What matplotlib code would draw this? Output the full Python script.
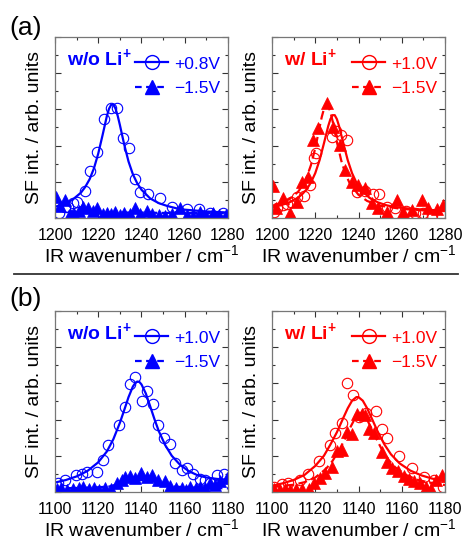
import numpy as np
import matplotlib
matplotlib.use("Agg")
import matplotlib.pyplot as plt
from matplotlib.ticker import MultipleLocator

plt.rcParams['font.family'] = ['Liberation Sans', 'DejaVu Sans']
plt.rcParams['mathtext.fontset'] = 'custom'
plt.rcParams['mathtext.rm'] = 'Liberation Sans'
plt.rcParams['mathtext.bf'] = 'Liberation Sans:bold'

BLUE = '#0000ff'
RED = '#ff0000'

# ---- (a) w/o Li+ ----
a_wo_circ_x = [1202, 1204.5, 1206, 1208.5, 1210, 1213.8, 1216.2, 1219.3, 1222.5, 1225.8,
               1228.5, 1231.4, 1234, 1237, 1239.3, 1243, 1248.5, 1254.2, 1260.9, 1266.8,
               1271.6, 1277.5]
a_wo_circ_y = [0.13, 0.31, 0.3, 0.41, 0.45, 0.75, 1.31, 1.83, 2.73, 3.05,
               3.03, 2.22, 1.94, 1.07, 0.71, 0.67, 0.55, 0.3, 0.24, 0.25,
               0.15, 0.13]
a_wo_tri_x = [1200.5, 1202.3, 1204.6, 1207, 1209, 1211, 1213, 1215.4, 1217.5, 1219.3,
              1222, 1224, 1226, 1227.7, 1230, 1232, 1234.5, 1237, 1239.5, 1242.4,
              1245, 1248, 1251, 1254, 1257.6, 1261, 1264, 1267, 1270, 1273, 1276, 1279]
a_wo_tri_y = [0.59, 0.33, 0.5, 0.12, 0.1, 0.18, 0.29, 0.27, 0.2, 0.28,
              0.1, 0.13, 0.1, 0.17, 0.08, 0.15, 0.1, 0.27, 0.12, 0.2,
              0.12, 0.08, 0.06, 0.1, 0.27, 0.08, 0.06, 0.17, 0.06, 0.13, 0.08, 0.08]
a_wo_fit_x = [1200, 1204, 1208, 1212, 1214, 1216, 1218, 1220, 1222, 1224, 1225, 1226,
              1227, 1228, 1229, 1230, 1232, 1234, 1236, 1238, 1240, 1244, 1248, 1252,
              1256, 1260, 1270, 1280]
a_wo_fit_y = [0.31, 0.38, 0.50, 0.70, 0.86, 1.07, 1.37, 1.78, 2.29, 2.82, 3.02, 3.13,
              3.13, 3.02, 2.82, 2.57, 2.03, 1.56, 1.21, 0.96, 0.78, 0.54, 0.41, 0.33,
              0.27, 0.23, 0.18, 0.15]
a_wo_dfit_x = [1200, 1210, 1220, 1230, 1240, 1250, 1260, 1270, 1280]
a_wo_dfit_y = [0.2, 0.17, 0.16, 0.15, 0.15, 0.14, 0.14, 0.14, 0.14]

# ---- (a) w/ Li+ ----
a_w_circ_x = [1200.8, 1202.5, 1205, 1207, 1209, 1211.5, 1214.6, 1217.6, 1219.5, 1220.3,
              1227.6, 1229.5, 1232, 1234.6, 1239.3, 1243, 1246.8, 1249.3, 1253, 1257,
              1262, 1266, 1270, 1274, 1278]
a_w_circ_y = [0.17, 0.28, 0.36, 0.4, 0.45, 0.57, 0.6, 0.91, 1.65, 1.8,
              2.24, 2.4, 2.3, 2.15, 0.72, 0.75, 0.66, 0.67, 0.3, 0.27,
              0.2, 0.13, 0.14, 0.07, 0.1]
a_w_tri_x = [1200.6, 1202, 1205, 1208.3, 1211.4, 1213.7, 1216.8, 1219.1, 1221.4, 1225.3,
             1228.4, 1231.4, 1233.7, 1236.8, 1239.9, 1243, 1246.1, 1249.2, 1253, 1257.6,
             1260.7, 1264.6, 1269.2, 1272.3, 1276.1, 1279.2]
a_w_tri_y = [0.87, 0.27, 0.54, 0.13, 0.45, 1.0, 1.14, 2.15, 2.48, 3.17,
             2.52, 2.02, 1.33, 1.0, 0.91, 0.82, 0.41, 0.27, 0.17, 0.5,
             0.17, 0.22, 0.5, 0.27, 0.24, 0.36]
a_w_fit_x = [1200, 1204, 1208, 1212, 1214, 1216, 1218, 1220, 1222, 1224, 1226, 1227,
             1228, 1229, 1230, 1231, 1233, 1235, 1237, 1239, 1241, 1245, 1249, 1253,
             1257, 1265, 1280]
a_w_fit_y = [0.30, 0.35, 0.43, 0.56, 0.66, 0.79, 0.98, 1.24, 1.60, 2.06, 2.54, 2.73,
             2.84, 2.84, 2.73, 2.54, 2.06, 1.60, 1.24, 0.98, 0.79, 0.56, 0.43, 0.35,
             0.30, 0.25, 0.20]
a_w_dfit_x = [1200, 1204, 1208, 1212, 1214, 1216, 1218, 1220, 1222, 1223, 1224, 1225,
              1226, 1227, 1228, 1230, 1232, 1234, 1236, 1240, 1244, 1250, 1260, 1270, 1280]
a_w_dfit_y = [0.33, 0.40, 0.52, 0.72, 0.89, 1.12, 1.46, 1.93, 2.51, 2.79, 3.01, 3.12,
              3.09, 2.93, 2.68, 2.10, 1.59, 1.21, 0.95, 0.64, 0.47, 0.34, 0.25, 0.21, 0.19]

# ---- (b) w/o Li+ ----
b_wo_circ_x = [1101.5, 1104.6, 1109.5, 1112.7, 1114.6, 1119.6, 1122.2, 1124.5, 1129.5, 1132.2,
               1134.6, 1137.2, 1140.1, 1142.6, 1145.5, 1147.8, 1150.5, 1153.4, 1155.5, 1158.6,
               1161, 1163.9, 1167, 1169.3, 1171.6, 1174.7, 1178]
b_wo_circ_y = [0.24, 0.34, 0.47, 0.5, 0.56, 0.54, 0.88, 1.29, 1.84, 2.35,
               2.99, 3.17, 2.5, 2.8, 2.42, 1.86, 1.48, 1.33, 0.8, 0.6,
               0.66, 0.5, 0.35, 0.33, 0.24, 0.47, 0.5]
b_wo_tri_x = [1100.8, 1103, 1105.5, 1108.5, 1111, 1113, 1115.5, 1118, 1120.5, 1123,
              1126, 1128.5, 1130.8, 1132.5, 1134.7, 1137, 1140, 1142.4, 1144.7, 1147.8,
              1150.8, 1153.2, 1156, 1158.6, 1160.5, 1162.4, 1165, 1167, 1169.5, 1171.6,
              1174, 1176.3, 1179.4]
b_wo_tri_y = [0.08, 0.12, 0.06, 0.08, 0.12, 0.15, 0.07, 0.1, 0.06, 0.1,
              0.08, 0.24, 0.33, 0.4, 0.45, 0.38, 0.52, 0.42, 0.47, 0.33,
              0.29, 0.17, 0.1, 0.1, 0.06, 0.15, 0.1, 0.15, 0.12, 0.24,
              0.2, 0.29, 0.38]
b_wo_fit_x = [1100, 1105, 1110, 1115, 1120, 1124, 1127, 1130, 1132, 1134, 1136, 1137,
              1138, 1139, 1140, 1142, 1144, 1146, 1148, 1151, 1154, 1158, 1162, 1166,
              1170, 1175, 1180]
b_wo_fit_y = [0.26, 0.33, 0.43, 0.58, 0.82, 1.12, 1.46, 1.91, 2.26, 2.62, 2.91, 3.00,
              3.05, 3.04, 2.97, 2.72, 2.37, 2.01, 1.68, 1.29, 1.00, 0.74, 0.57, 0.46,
              0.40, 0.36, 0.34]
b_wo_dfit_x = [1100, 1110, 1120, 1125, 1130, 1135, 1140, 1145, 1150, 1155, 1160, 1170, 1180]
b_wo_dfit_y = [0.10, 0.11, 0.13, 0.15, 0.23, 0.29, 0.33, 0.29, 0.23, 0.15, 0.13, 0.11, 0.10]

# ---- (b) w/ Li+ ----
b_w_circ_x = [1100.7, 1104.5, 1107.5, 1113, 1116.6, 1121.5, 1126.7, 1129.2, 1132.3, 1134.6,
              1137.4, 1140.4, 1143.4, 1148, 1150.8, 1153.2, 1158.5, 1164.7, 1170.1, 1175,
              1179.1]
b_w_circ_y = [0.15, 0.23, 0.24, 0.33, 0.51, 0.85, 1.3, 1.62, 1.9, 3.02,
              2.67, 2.08, 2.17, 2.23, 1.75, 1.48, 0.98, 0.65, 0.4, 0.33,
              0.15]
b_w_tri_x = [1100.8, 1103.5, 1106, 1108.5, 1111, 1114, 1117, 1119.3, 1122.3, 1124.7,
             1127.7, 1130, 1132.4, 1134.7, 1137, 1139.5, 1141.6, 1143.1, 1144.9, 1147,
             1150.8, 1153.2, 1155.5, 1158.1, 1160.9, 1163.2, 1165.5, 1168.6, 1171.2, 1173.5,
             1175.7, 1178.5]
b_w_tri_y = [0.08, 0.06, 0.08, 0.06, 0.08, 0.07, 0.08, 0.24, 0.38, 0.52,
             0.68, 1.13, 1.15, 1.66, 1.6, 2.15, 2.15, 2.12, 1.73, 1.62,
             1.1, 0.84, 0.65, 0.58, 0.45, 0.36, 0.3, 0.24, 0.15, 0.08,
             0.33, 0.46]
b_w_fit_x = [1100, 1105, 1110, 1115, 1120, 1124, 1127, 1130, 1133, 1135, 1137, 1139,
             1140, 1142, 1144, 1146, 1149, 1152, 1155, 1159, 1164, 1169, 1174, 1180]
b_w_fit_y = [0.17, 0.24, 0.33, 0.47, 0.72, 1.00, 1.31, 1.65, 2.05, 2.31, 2.52, 2.62,
             2.62, 2.52, 2.31, 2.05, 1.65, 1.31, 1.04, 0.79, 0.59, 0.46, 0.37, 0.30]
b_w_dfit_x = [1100, 1110, 1115, 1120, 1125, 1128, 1131, 1134, 1136, 1138, 1140, 1141,
              1142, 1144, 1146, 1148, 1151, 1154, 1157, 1162, 1167, 1172, 1180]
b_w_dfit_y = [0.14, 0.20, 0.27, 0.40, 0.64, 0.86, 1.15, 1.50, 1.76, 1.99, 2.13, 2.15,
              2.13, 1.99, 1.76, 1.50, 1.15, 0.88, 0.68, 0.47, 0.34, 0.27, 0.19]

panels = [
    # (axes rect, colour, title, labels, xlim, circ, tri, fit, dfit)
    ([0.1183, 0.5978, 0.372, 0.334], BLUE, r'w/o Li$\mathbf{^{+}}$', ['+0.8V', '\u22121.5V'],
     (1200, 1280), (a_wo_circ_x, a_wo_circ_y), (a_wo_tri_x, a_wo_tri_y),
     (a_wo_fit_x, a_wo_fit_y), (a_wo_dfit_x, a_wo_dfit_y)),
    ([0.585, 0.5978, 0.372, 0.334], RED, r'w/ Li$\mathbf{^{+}}$', ['+1.0V', '\u22121.5V'],
     (1200, 1280), (a_w_circ_x, a_w_circ_y), (a_w_tri_x, a_w_tri_y),
     (a_w_fit_x, a_w_fit_y), (a_w_dfit_x, a_w_dfit_y)),
    ([0.1183, 0.0923, 0.372, 0.334], BLUE, r'w/o Li$\mathbf{^{+}}$', ['+1.0V', '\u22121.5V'],
     (1100, 1180), (b_wo_circ_x, b_wo_circ_y), (b_wo_tri_x, b_wo_tri_y),
     (b_wo_fit_x, b_wo_fit_y), (b_wo_dfit_x, b_wo_dfit_y)),
    ([0.585, 0.0923, 0.372, 0.334], RED, r'w/ Li$\mathbf{^{+}}$', ['+1.0V', '\u22121.5V'],
     (1100, 1180), (b_w_circ_x, b_w_circ_y), (b_w_tri_x, b_w_tri_y),
     (b_w_fit_x, b_w_fit_y), (b_w_dfit_x, b_w_dfit_y)),
]

fig = plt.figure(figsize=(4.65, 5.42), dpi=100)

for rect, col, title, labels, xlim, circ, tri, fit, dfit in panels:
    ax = fig.add_axes(rect)
    ax.plot(circ[0], circ[1], 'o', ms=7.5, mfc='none', mec=col, mew=0.8)
    ax.plot(tri[0], tri[1], '^', ms=8, mfc=col, mec=col, mew=0.5)
    ax.plot(fit[0], fit[1], '-', color=col, lw=1.6)
    ax.plot(dfit[0], dfit[1], '--', color=col, lw=1.6, dashes=(4, 2))

    h1, = ax.plot([], [], '-o', color=col, lw=1.6, ms=10, mfc='none', mec=col, mew=1.0)
    h2, = ax.plot([], [], '--^', color=col, lw=1.6, ms=10, mfc=col, mec=col, dashes=(3, 2))
    leg = ax.legend([h1, h2], labels, loc='upper left', bbox_to_anchor=(0.445, 0.912),
                    frameon=False, fontsize=12.5, handlelength=1.9, handletextpad=0.35,
                    labelspacing=0.55, borderpad=0.2, borderaxespad=0)
    for t in leg.get_texts():
        t.set_color(col)

    ax.text(0.068, 0.885, title, transform=ax.transAxes, color=col, fontsize=14,
            fontweight='bold', va='center', ha='left')

    ax.set_xlim(*xlim)
    ax.set_ylim(0, 5)
    ax.xaxis.set_major_locator(MultipleLocator(20))
    ax.xaxis.set_minor_locator(MultipleLocator(10))
    ax.yaxis.set_major_locator(MultipleLocator(1))
    ax.yaxis.set_minor_locator(MultipleLocator(0.5))
    ax.tick_params(which='both', direction='in', top=True, right=True,
                   color='#333333', width=0.8, labelleft=False)
    ax.tick_params(which='major', length=4, labelsize=11.5, pad=7)
    ax.tick_params(which='minor', length=2.5)
    for s in ax.spines.values():
        s.set_color('#777777')
        s.set_linewidth(0.9)
    ax.set_xlabel(r'IR wavenumber / cm$^{-1}$', fontsize=14, labelpad=1)
    ax.set_ylabel('SF int. / arb. units', fontsize=14, labelpad=9)

fig.text(0.02, 0.948, '(a)', fontsize=19, va='center', ha='left')
fig.text(0.02, 0.448, '(b)', fontsize=19, va='center', ha='left')
fig.add_artist(plt.Line2D([0.03, 0.985], [0.4945, 0.4945], color='#333333', lw=1.3,
                          transform=fig.transFigure))

fig.savefig('out.png', dpi=100)
